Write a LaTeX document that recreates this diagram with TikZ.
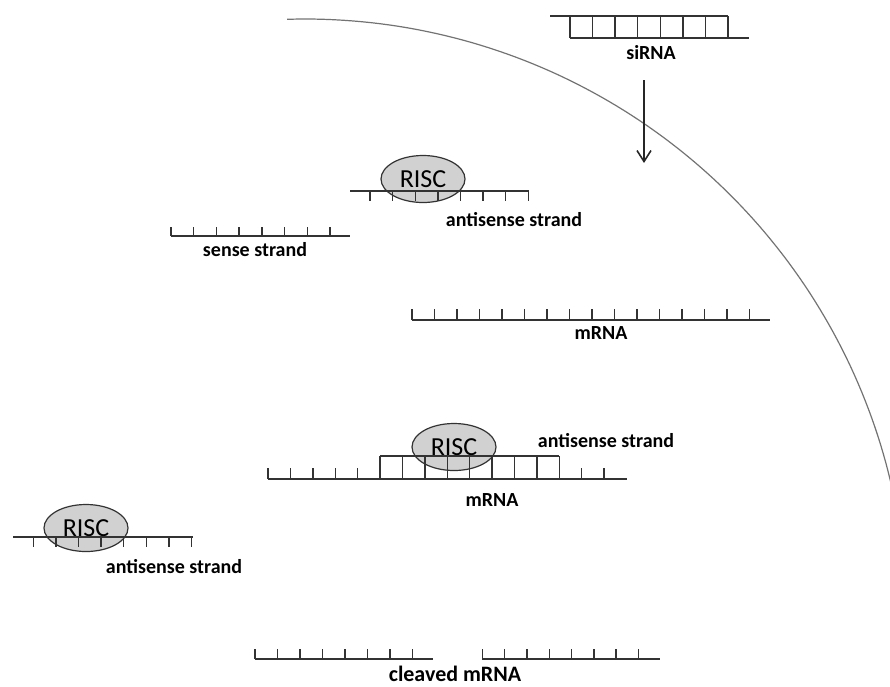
\documentclass[tikz,border=0pt]{standalone}
\usepackage{fontspec}
\setmainfont{Carlito}
\usetikzlibrary{arrows.meta,shapes.geometric}

\begin{document}
\begin{tikzpicture}[x=1pt, y=-1pt,
    strand/.style={line width=1.4pt, draw=black!80},
    lbl/.style={font=\fontsize{20}{24}\selectfont\bfseries, inner sep=0pt},
    risc/.style={ellipse, draw=black!80, line width=1.2pt, fill=black!18,
      minimum width=84pt, minimum height=47pt, inner sep=0pt,
      font=\fontsize{26}{30}\selectfont}]
    \useasboundingbox (0,0) rectangle (890,686);

    % cell membrane
    \draw[black!55, line width=1.2pt] plot[domain=12.6:91.7, samples=90]
      ({305+602*cos(\x)}, {621-602*sin(\x)});

    % siRNA duplex outside the cell
    \draw[strand] (550,16) -- (728,16);
    \draw[strand] (570,38) -- (749,38);
    \foreach \i in {0,...,7}
      \draw[strand] (570+22.57*\i,16) -- (570+22.57*\i,38);
    \node[lbl] (sirna) at (651,53) {siRNA};

    \coordinate (enter) at (644,80);
    \coordinate (inside) at (644,163);
    \draw[line width=1.6pt, black!85, -{Straight Barb[length=11pt,width=14pt]}] (enter) -- (inside);

    % RISC loaded with the antisense strand
    \node[risc] (risctop) at (423,179) {RISC};
    \draw[strand] (350,191) -- (529,191);
    \foreach \i in {0,...,7}
      \draw[strand] (370+22.6*\i,191) -- (370+22.6*\i,201);
    \node[lbl] (antisensetop) at (514,220) {antisense strand};

    % discarded sense strand
    \draw[strand] (171,236) -- (350,236);
    \foreach \i in {0,...,7}
      \draw[strand] (171+22.7*\i,236) -- (171+22.7*\i,227);
    \node[lbl] (sense) at (255,250) {sense strand};

    % target mRNA
    \draw[strand] (412,320) -- (770,320);
    \foreach \i in {0,...,15}
      \draw[strand] (412+22.5*\i,320) -- (412+22.5*\i,309);
    \node[lbl] (mrnatop) at (601,333) {mRNA};

    % RISC bound to the mRNA
    \node[risc] (riscmid) at (454,447) {RISC};
    \draw[strand] (268,479) -- (627,479);
    \foreach \i in {0,...,15}
      \draw[strand] (268+22.4*\i,479) -- (268+22.4*\i,468);
    \draw[strand] (380,456) -- (559.2,456);
    \foreach \i in {0,...,8}
      \draw[strand] (380+22.4*\i,456) -- (380+22.4*\i,479);
    \node[lbl] (antisensemid) at (606,441) {antisense strand};
    \node[lbl] (mrnamid) at (492,500) {mRNA};

    % RISC released again
    \node[risc] (risclow) at (86,528) {RISC};
    \draw[strand] (13,537) -- (193,537);
    \foreach \i in {0,...,7}
      \draw[strand] (33.3+22.6*\i,537) -- (33.3+22.6*\i,547);
    \node[lbl] (antisenselow) at (174,567) {antisense strand};

    % cleaved mRNA pieces
    \draw[strand] (255,659) -- (433,659);
    \foreach \i in {0,...,7}
      \draw[strand] (255+22.5*\i,659) -- (255+22.5*\i,649);
    \draw[strand] (482,659) -- (660,659);
    \foreach \i in {0,...,7}
      \draw[strand] (482.3+22.3*\i,659) -- (482.3+22.3*\i,649);
    \node[lbl, font=\fontsize{22}{26}\selectfont\bfseries] (cleaved) at (455,674) {cleaved mRNA};
\end{tikzpicture}
\end{document}
